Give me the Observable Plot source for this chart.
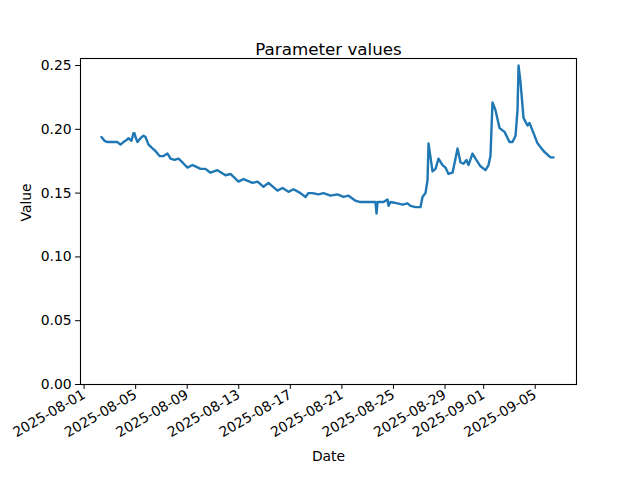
<!DOCTYPE html>
<html>
<head>
<meta charset="utf-8">
<script src="https://cdn.jsdelivr.net/npm/d3@7"></script>
<script src="https://cdn.jsdelivr.net/npm/@observablehq/plot@0.6"></script>
<style>
  html, body { margin: 0; padding: 0; background: white; }
</style>
</head>
<body>
<div id="chart"></div>
<script>
const titleText = "Parameter values";
const xLabel = "Date";
const yLabel = "Value";

const dates = [
  "2025-08-02T08:24","2025-08-02T14:00","2025-08-02T19:36","2025-08-03T01:10","2025-08-03T06:45",
  "2025-08-03T14:10","2025-08-03T19:45","2025-08-04T01:20","2025-08-04T05:05","2025-08-04T10:40",
  "2025-08-04T16:15","2025-08-04T20:00","2025-08-04T21:50","2025-08-04T23:40","2025-08-05T03:25",
  "2025-08-05T09:00","2025-08-05T14:35","2025-08-05T18:20","2025-08-05T23:55","2025-08-06T07:25",
  "2025-08-06T12:55","2025-08-06T20:25","2025-08-07T03:50","2025-08-07T11:20","2025-08-07T16:55",
  "2025-08-08T00:20","2025-08-08T07:45","2025-08-08T15:15","2025-08-09T00:30","2025-08-09T09:50",
  "2025-08-09T15:25","2025-08-10T00:45","2025-08-10T10:00","2025-08-10T19:20","2025-08-11T08:25",
  "2025-08-11T15:50","2025-08-11T23:15","2025-08-12T08:35","2025-08-12T23:30","2025-08-13T08:50",
  "2025-08-14T01:35","2025-08-14T10:55","2025-08-14T22:00","2025-08-15T07:20","2025-08-16T00:05",
  "2025-08-16T09:25","2025-08-16T20:35","2025-08-17T05:55","2025-08-17T18:55","2025-08-18T04:15",
  "2025-08-18T09:50","2025-08-18T17:15","2025-08-19T04:30","2025-08-19T13:50","2025-08-20T02:50",
  "2025-08-20T15:50","2025-08-21T03:00","2025-08-21T12:20","2025-08-22T01:20","2025-08-22T10:40",
  "2025-08-22T23:40","2025-08-23T09:00","2025-08-23T14:35","2025-08-23T16:30","2025-08-23T18:20",
  "2025-08-24T05:30","2025-08-24T12:55","2025-08-24T14:50","2025-08-24T18:30","2025-08-25T07:35",
  "2025-08-25T16:55","2025-08-26T02:10","2025-08-26T07:50","2025-08-26T17:05","2025-08-27T02:25",
  "2025-08-27T06:05","2025-08-27T11:40","2025-08-27T15:25","2025-08-27T17:20","2025-08-27T21:00",
  "2025-08-28T00:45","2025-08-28T06:20","2025-08-28T11:55","2025-08-28T19:20","2025-08-29T00:55",
  "2025-08-29T06:30","2025-08-29T14:00","2025-08-29T19:30","2025-08-29T23:20","2025-08-30T04:55",
  "2025-08-30T10:25","2025-08-30T16:00","2025-08-30T19:45","2025-08-31T03:10","2025-08-31T08:50",
  "2025-08-31T18:05","2025-09-01T03:25","2025-09-01T09:00","2025-09-01T12:40","2025-09-01T16:25",
  "2025-09-01T22:00","2025-09-02T05:30","2025-09-02T14:50","2025-09-03T00:05","2025-09-03T05:40",
  "2025-09-03T11:20","2025-09-03T15:00","2025-09-03T16:55","2025-09-03T20:35","2025-09-04T02:10",
  "2025-09-04T09:35","2025-09-04T13:20","2025-09-04T20:50","2025-09-05T04:15","2025-09-05T15:25",
  "2025-09-06T04:25","2025-09-06T10:00"
];

const values = [
  0.194,0.191,0.190,0.190,0.190,
  0.190,0.188,0.190,0.191,0.193,
  0.191,0.197,0.197,0.194,0.190,
  0.193,0.195,0.194,0.188,0.185,
  0.183,0.179,0.179,0.181,0.177,
  0.176,0.177,0.174,0.170,0.172,
  0.171,0.169,0.169,0.166,0.168,
  0.166,0.164,0.165,0.159,0.161,
  0.158,0.159,0.155,0.158,0.152,
  0.154,0.151,0.153,0.150,0.147,
  0.150,0.150,0.149,0.150,0.148,
  0.149,0.147,0.148,0.144,0.143,
  0.143,0.143,0.143,0.134,0.143,
  0.143,0.145,0.140,0.143,0.142,
  0.141,0.142,0.140,0.139,0.139,
  0.147,0.150,0.160,0.189,0.178,
  0.167,0.169,0.177,0.172,0.170,
  0.165,0.166,0.177,0.185,0.174,
  0.173,0.176,0.172,0.181,0.177,
  0.171,0.168,0.172,0.179,0.221,
  0.215,0.201,0.198,0.190,0.190,
  0.195,0.215,0.250,0.237,0.209,
  0.203,0.205,0.197,0.189,0.183,
  0.178,0.178
];

const xTickLabels = ["2025-08-01","2025-08-05","2025-08-09","2025-08-13","2025-08-17",
                     "2025-08-21","2025-08-25","2025-08-29","2025-09-01","2025-09-05"];
const yTicks = [0, 0.05, 0.10, 0.15, 0.20, 0.25];
const xDomain = ["2025-07-31T17:20", "2025-09-08T04:50"];
const yDomain = [0, 0.2555];

const parse = s => new Date(s + (s.length > 10 ? "Z" : "T00:00Z"));
const data = dates.map((d, i) => ({date: parse(d), value: values[i]}));
const xTicks = xTickLabels.map(parse);

const chart = Plot.plot({
  width: 640,
  height: 480,
  marginLeft: 80,
  marginRight: 64,
  marginTop: 58,
  marginBottom: 96,
  style: {fontFamily: "DejaVu Sans", fontSize: "13.9px", background: "white", color: "black", overflow: "visible"},
  x: {type: "utc", domain: xDomain.map(parse)},
  y: {domain: yDomain},
  marks: [
    Plot.lineY(data, {x: "date", y: "value", stroke: "#1f77b4", strokeWidth: 2.4, curve: "linear", strokeLinejoin: "round"}),
    Plot.frame({stroke: "black", strokeWidth: 1.1}),
    Plot.axisY({ticks: yTicks, tickFormat: d3.format(".2f"), tickSize: 4.9, tickPadding: 4, label: null, fontSize: 13.9}),
    Plot.axisX({ticks: xTicks, tickFormat: d3.utcFormat("%Y-%m-%d"), tickRotate: -30, tickSize: 4.9, tickPadding: 4, label: null, fontSize: 13.9}),
    Plot.text([titleText], {frameAnchor: "top", dy: -15, fontSize: 16.7}),
    Plot.text([xLabel], {frameAnchor: "bottom", dy: 76, fontSize: 13.9}),
    Plot.text([yLabel], {frameAnchor: "left", dx: -54, rotate: -90, fontSize: 13.9})
  ]
});
document.getElementById("chart").appendChild(chart);
</script>
</body>
</html>
